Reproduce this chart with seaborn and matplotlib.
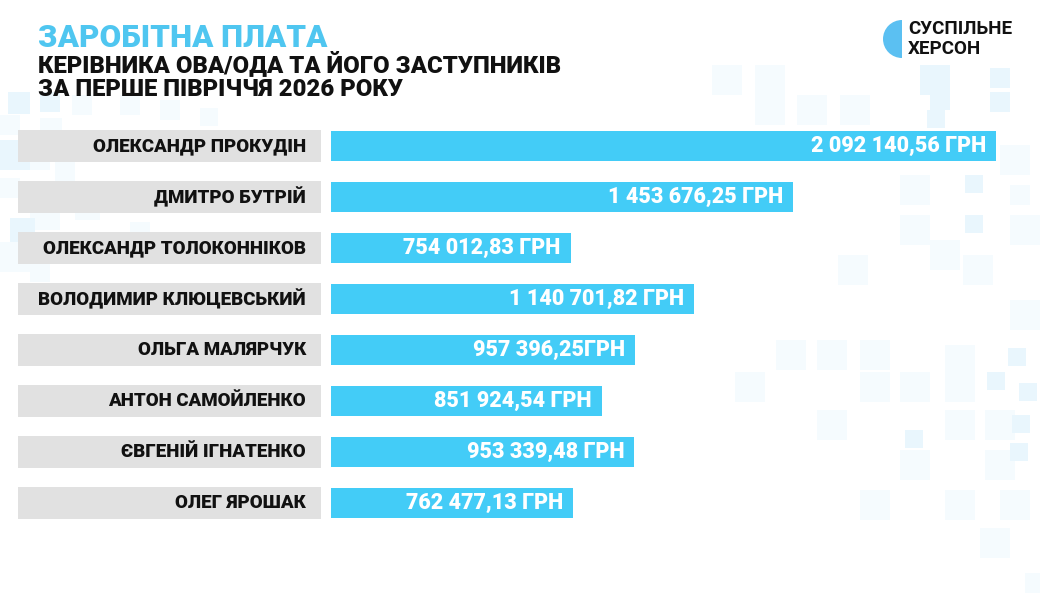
import matplotlib
matplotlib.use("Agg")
import matplotlib.pyplot as plt
import matplotlib.transforms as mtransforms
from matplotlib.patches import Rectangle, Wedge
import seaborn as sns
import pandas as pd

names = [
    "ОЛЕКСАНДР ПРОКУДІН",
    "ДМИТРО БУТРІЙ",
    "ОЛЕКСАНДР ТОЛОКОННІКОВ",
    "ВОЛОДИМИР КЛЮЦЕВСЬКИЙ",
    "ОЛЬГА МАЛЯРЧУК",
    "АНТОН САМОЙЛЕНКО",
    "ЄВГЕНІЙ ІГНАТЕНКО",
    "ОЛЕГ ЯРОШАК",
]
salaries = [2092140.56, 1453676.25, 754012.83, 1140701.82,
            957396.25, 851924.54, 953339.48, 762477.13]
value_labels = [
    "2 092 140,56 ГРН",
    "1 453 676,25 ГРН",
    "754 012,83 ГРН",
    "1 140 701,82 ГРН",
    "957 396,25ГРН",
    "851 924,54 ГРН",
    "953 339,48 ГРН",
    "762 477,13 ГРН",
]
title = "ЗАРОБІТНА ПЛАТА"
subtitle = "КЕРІВНИКА ОВА/ОДА ТА ЙОГО ЗАСТУПНИКІВ\nЗА ПЕРШЕ ПІВРІЧЧЯ 2026 РОКУ"
brand = "СУСПІЛЬНЕ\nХЕРСОН"

df = pd.DataFrame({"name": names, "salary": salaries})

sns.set_theme(style="white")
plt.rcParams["font.family"] = ["Roboto", "DejaVu Sans"]

BLUE = "#43CCF7"
GREY = "#E1E1E1"
W, H = 1040, 594

fig = plt.figure(figsize=(10.4, 5.94), dpi=100)
fig.patch.set_facecolor("white")

# decorative faint squares in the background (pixel coords: x, y-top, size, tone)
deco = [
    (712, 65, 30, 0), (755, 65, 30, 0), (920, 65, 30, 1), (990, 68, 20, 1),
    (755, 95, 30, 0), (797, 95, 30, 0), (840, 95, 30, 0), (930, 90, 20, 1),
    (990, 92, 20, 1), (927, 110, 18, 1), (1000, 145, 30, 0), (965, 175, 18, 1),
    (900, 175, 30, 0), (1010, 185, 20, 0), (900, 215, 30, 0), (965, 215, 18, 1),
    (1010, 215, 30, 0), (930, 240, 30, 0), (838, 255, 30, 0), (963, 255, 30, 0),
    (1010, 300, 30, 0), (776, 340, 30, 0), (817, 340, 30, 0), (860, 340, 30, 0),
    (945, 345, 30, 0), (1008, 348, 18, 1), (735, 372, 30, 0), (860, 372, 30, 0),
    (900, 372, 30, 0), (945, 372, 30, 0), (987, 372, 18, 1), (1019, 383, 18, 1),
    (817, 410, 30, 0), (945, 410, 30, 0), (985, 410, 30, 0), (905, 430, 18, 1),
    (1012, 415, 18, 1), (900, 450, 30, 0), (985, 450, 30, 0), (1010, 443, 18, 1),
    (860, 490, 30, 0), (945, 490, 30, 0), (1000, 490, 30, 0), (980, 528, 30, 0),
    (1025, 573, 20, 0),
    (8, 92, 22, 1), (40, 92, 20, 1), (72, 95, 20, 0), (0, 115, 20, 0),
    (40, 118, 22, 0), (0, 140, 30, 1), (30, 150, 20, 0), (55, 162, 20, 0),
    (0, 178, 20, 0), (30, 200, 30, 0), (75, 195, 25, 0), (10, 218, 25, 1),
    (0, 242, 30, 0), (60, 240, 20, 0), (130, 222, 20, 0), (30, 262, 20, 0),
    (120, 95, 20, 0), (160, 100, 20, 0), (200, 108, 18, 0),
]
tones = ["#F5FBFE", "#E9F6FD"]
for (x, y, s, t) in deco:
    fig.patches.append(Rectangle((x / W, 1 - (y + s) / H), s / W, s / H,
                                 transform=fig.transFigure, facecolor=tones[t],
                                 edgecolor="none", zorder=-5))

# axes for bars: left edge at x=331px
ax_left = 331 / W
ax = fig.add_axes([ax_left, 1 - 528.5 / H, 1 - ax_left, (528.5 - 120.5) / H])
ax.patch.set_alpha(0)
sns.barplot(data=df, x="salary", y="name", orient="h", color=BLUE,
            width=0.59, saturation=1, ax=ax, edgecolor="none")
xmax = max(salaries) * (W - 331) / (996 - 331)
ax.set_xlim(0, xmax)
ax.set_ylim(len(names) - 0.5, -0.5)
ax.axis("off")

# grey name boxes and name labels (figure x, data y)
trans = mtransforms.blended_transform_factory(fig.transFigure, ax.transData)
for i, nm in enumerate(names):
    fig.patches.append(Rectangle((18 / W, i - 0.32), (321 - 18) / W, 0.64,
                                 transform=trans, facecolor=GREY,
                                 edgecolor="none", zorder=0))
    fig.text(306 / W, i, nm, transform=trans, ha="right", va="center",
             fontsize=13.5, fontweight="black", color="#111111")

for i, (v, lab) in enumerate(zip(salaries, value_labels)):
    ax.annotate(lab, xy=(v, i), xytext=(-10, 0), textcoords="offset pixels",
                ha="right", va="center", fontsize=15.5, fontweight="black",
                color="white")

# titles
fig.text(38 / W, 1 - 38 / H, title, ha="left", va="center",
         fontsize=22.5, fontweight="black", color="#4FC6F0")
fig.text(38 / W, 1 - 76 / H, subtitle, ha="left", va="center",
         fontsize=17.2, fontweight="black", color="#111111", linespacing=1.1)

# brand logo (half disc drawn in inch coordinates to stay round)
fig.patches.append(Wedge((9.02, (H - 39) / 100), 0.19, 90, 270,
                         transform=fig.dpi_scale_trans, facecolor="#5BC0F2",
                         edgecolor="none"))
fig.text(908 / W, 1 - 39 / H, brand, ha="left", va="center",
         fontsize=13.5, fontweight="bold", color="#111111", linespacing=1.1)

fig.savefig("out.png", dpi=100, facecolor="white")
